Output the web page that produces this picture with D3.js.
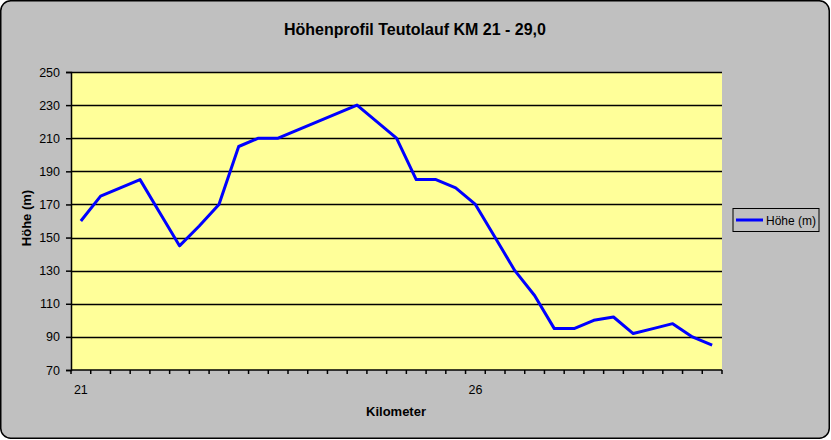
<!DOCTYPE html>
<html><head><meta charset="utf-8">
<script src="https://cdn.jsdelivr.net/npm/d3@7/dist/d3.min.js"></script>
<style>body{margin:0;background:#fff}svg{display:block}</style>
</head><body><svg id="c" width="831" height="440"></svg>
<script>
const title = "Höhenprofil Teutolauf KM 21 - 29,0";
const xTitle = "Kilometer";
const yTitle = "Höhe (m)";
const seriesName = "Höhe (m)";
const km = d3.range(33).map(i => 21 + i * 0.25);
const hoehe = [160,175,180,185,165,145,157,170,205,210,210,215,220,225,230,220,210,185,185,180,170,150,130,115,95,95,100,102,92,95,98,90,85];
const xLabels = {0: "21", 20: "26"};
const yTicks = [70,90,110,130,150,170,190,210,230,250];

const svg = d3.select("#c");
const font = "'Liberation Sans', Arial, sans-serif";
svg.append("rect").attr("x",0.75).attr("y",0.75).attr("width",828.5).attr("height",437.5)
  .attr("rx",10).attr("fill","#C0C0C0").attr("stroke","#000").attr("stroke-width",1.5);

const L=71, R=722, T=72, B=370;
const x = d3.scaleBand().domain(d3.range(km.length)).range([L,R]).paddingInner(0).paddingOuter(0);
const y = d3.scaleLinear().domain([70,250]).range([B,T]);

svg.append("rect").attr("x",L).attr("y",T).attr("width",R-L).attr("height",B-T).attr("fill","#FFFF99");

// gridlines
svg.append("g").selectAll("line").data(yTicks.slice(1)).join("line")
  .attr("x1",L).attr("x2",R).attr("y1",d=>Math.round(y(d))+0.5).attr("y2",d=>Math.round(y(d))+0.5)
  .attr("stroke","#000").attr("stroke-width",1.5);

// y axis
const ya = svg.append("g").attr("transform",`translate(${L},0)`)
  .call(d3.axisLeft(y).tickValues(yTicks).tickSize(5).tickPadding(6));
ya.select(".domain").attr("stroke","#000").attr("stroke-width",1.5);
ya.selectAll("line").attr("stroke","#000").attr("stroke-width",1.5);
ya.selectAll("text").attr("font-family",font).attr("font-size",12.5).attr("fill","#000");

// x axis
const boundaries = d3.range(km.length+1).map(i => L + i * x.bandwidth());
const xg = svg.append("g");
xg.append("line").attr("x1",L).attr("x2",R).attr("y1",B).attr("y2",B).attr("stroke","#000").attr("stroke-width",1.5);
xg.selectAll("line.t").data(boundaries).join("line").attr("class","t")
  .attr("x1",d=>d).attr("x2",d=>d).attr("y1",B).attr("y2",B+4).attr("stroke","#000").attr("stroke-width",1.5);
xg.selectAll("text").data(Object.keys(xLabels)).join("text")
  .attr("x",d=>x(+d)+x.bandwidth()/2).attr("y",B+24).attr("text-anchor","middle")
  .attr("font-family",font).attr("font-size",12.5).text(d=>xLabels[d]);

// line
const line = d3.line().x((d,i)=>x(i)+x.bandwidth()/2).y(d=>y(d));
svg.append("path").datum(hoehe).attr("d",line).attr("fill","none")
  .attr("stroke","#0000FF").attr("stroke-width",3).attr("stroke-linejoin","round");

// titles
svg.append("text").attr("x",415).attr("y",35).attr("text-anchor","middle")
  .attr("font-family",font).attr("font-weight","bold").attr("font-size",16).text(title);
svg.append("text").attr("x",396).attr("y",416).attr("text-anchor","middle")
  .attr("font-family",font).attr("font-weight","bold").attr("font-size",13).text(xTitle);
svg.append("text").attr("transform","translate(31,218) rotate(-90)").attr("text-anchor","middle")
  .attr("font-family",font).attr("font-weight","bold").attr("font-size",13).text(yTitle);

// legend
const lg = svg.append("g");
lg.append("rect").attr("x",733).attr("y",208.5).attr("width",86).attr("height",23)
  .attr("fill","#C0C0C0").attr("stroke","#000").attr("stroke-width",1);
lg.append("line").attr("x1",736).attr("x2",763).attr("y1",220).attr("y2",220).attr("stroke","#0000FF").attr("stroke-width",3);
lg.append("text").attr("x",766).attr("y",224.5).attr("font-family",font).attr("font-size",12).text(seriesName);
</script></body></html>
